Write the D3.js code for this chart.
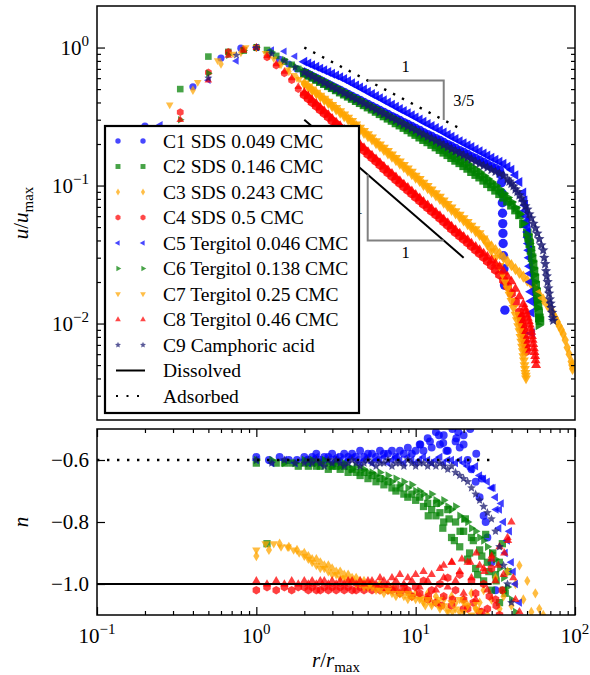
<!DOCTYPE html>
<html><head><meta charset="utf-8">
<script src="https://cdn.jsdelivr.net/npm/d3@7"></script>
<style>
body{margin:0;background:#fff}
svg{display:block}
text{font-family:"Liberation Serif","Times New Roman",serif;fill:#000}
</style>
</head><body>
<svg id="chart" width="590" height="675"></svg>
<script>
// ---------------- DATA ----------------
const rGrid = [2.00,2.12,2.24,2.38,2.52,2.67,2.83,2.99,3.17,3.36,3.56,3.77,3.99,4.23,4.48,4.74,5.02,5.32,5.64,5.97,6.32,6.70,7.10,7.52,7.96,8.43,8.93,9.46,10.0,10.6,11.2,11.9,12.6,13.4,14.2,15.0,15.9,16.8,17.8,18.9,20.0,21.2,22.4,23.8,25.2,26.7,28.2,29.9,31.7,33.6,35.6,37.7,39.9,42.3,44.8,47.4,50.2,53.2,56.4,59.7,63.2,67.0,71.0,75.2,79.6,84.3,89.3,94.6];

// C1 SDS 0.049 CMC
const c1HeadR = [0.2,0.4,0.6,0.8,1.0,1.2,1.4,1.6,1.8];
const c1HeadU = [0.27,0.52,0.84,0.99,1.0,0.91,0.82,0.76,0.70];
const c1HeadN = [null,null,null,null,-0.59,-0.60,-0.59,-0.60,-0.60];
const c1GridU = [0.660,0.638,0.617,0.597,0.577,0.558,0.540,0.522,0.505,0.489,
 0.473,0.457,0.442,0.428,0.414,0.400,0.387,0.374,0.362,0.350,
 0.338,0.327,0.316,0.306,0.296,0.286,0.277,0.268,0.259,0.251,
 0.242,0.234,0.227,0.219,0.212,0.205,0.198,0.192,0.186,0.179,
 0.174,0.168,0.162,0.157,0.152,0.147,0.142,0.137,0.133,0.129];
const c1GridN = [-0.59,-0.60,-0.59,-0.58,-0.60,-0.59,-0.59,-0.58,-0.60,-0.59,
 -0.58,-0.59,-0.58,-0.59,-0.57,-0.59,-0.58,-0.58,-0.59,-0.57,
 -0.58,-0.58,-0.57,-0.59,-0.57,-0.58,-0.56,-0.58,-0.57,-0.55,
 -0.57,-0.53,-0.56,-0.51,-0.55,-0.52,-0.57,-0.49,-0.54,-0.56,
 -0.52,-0.60,-0.63,-0.67,-0.72,-0.78,-0.85,-0.93,-1.02,null];
const c1TailR = [34.2,34.6,34.9,35.0,35.1,35.2,35.3,35.4,35.6,35.8,36.1,36.3];
const c1TailU = [0.120,0.105,0.088,0.075,0.063,0.053,0.045,0.038,0.031,0.025,0.019,0.0125];
const c1ExtraR = [10.7,12.3,14.0,14.9,15.6,17.0,18.0,18.5,20.0,22.0,24.0,26.0,27.5];
const c1ExtraN = [-0.55,-0.54,-0.52,-0.545,-0.57,-0.50,-0.53,-0.51,-0.55,-0.50,-0.58,-0.66,-0.80];

// C2 SDS 0.146 CMC
const c2HeadR = [0.333,0.5,0.667,0.833,1.0,1.167,1.333,1.5,1.667,1.833];
const c2HeadU = [0.50,0.86,0.93,0.95,1.0,0.96,0.87,0.79,0.75,0.70];
const c2HeadN = [null,null,null,null,-0.61,-0.87,-0.61,-0.61,-0.61,-0.62];
const c2GridU = [0.650,0.628,0.607,0.586,0.566,0.547,0.528,0.511,0.493,0.475,
 0.459,0.443,0.427,0.412,0.398,0.384,0.370,0.357,0.344,0.331,
 0.319,0.307,0.296,0.284,0.274,0.263,0.253,0.243,0.234,0.224,
 0.215,0.207,0.198,0.190,0.182,0.174,0.167,0.159,0.152,0.146,
 0.139,0.133,0.126,0.120,0.115,0.109,0.103,0.0977,0.0923,0.0871,
 0.0822,0.0769,0.0720,0.0664,0.0613,0.0528,0.0455];
const c2GridN = [-0.61,-0.62,-0.61,-0.62,-0.62,-0.61,-0.63,-0.62,-0.62,-0.63,
 -0.62,-0.64,-0.63,-0.64,-0.65,-0.64,-0.66,-0.65,-0.67,-0.66,
 -0.68,-0.67,-0.69,-0.70,-0.69,-0.71,-0.72,-0.71,-0.73,-0.72,
 -0.75,-0.74,-0.76,-0.78,-0.77,-0.80,-0.76,-0.85,-0.80,-0.88,
 -0.83,-0.92,-0.85,-0.95,-0.89,-0.99,-0.93,-1.02,-0.97,-1.06,
 -1.02,null,null,null,null,null,null];
const c2TailR = [51.1,52.0,52.9,53.8,54.6,55.3,56.0,56.7,57.4,58.0,58.6,59.2,59.8,60.3];
const c2TailU = [0.042,0.038,0.034,0.030,0.027,0.024,0.0215,0.019,0.017,0.015,0.0135,0.012,0.011,0.0105];
const c2ExtraR = [12.0,13.5,14.8,16.2,17.5,19.0,20.5,21.8,23.0,24.5,26.0,27.5,28.8,30.5,32.0,33.5,35.0,36.5,38.0];
const c2ExtraN = [-0.78,-0.74,-0.82,-0.79,-0.86,-0.83,-0.79,-0.90,-0.86,-0.97,-0.91,-0.84,-0.96,-0.90,-0.99,-0.93,-0.87,-1.03,-0.96];

// C3 SDS 0.243 CMC
const c3HeadR = [0.4,0.6,0.8,1.0,1.2,1.4,1.6,1.8];
const c3HeadU = [0.49,0.76,0.92,1.0,0.87,0.76,0.67,0.60];
const c3HeadN = [null,null,null,-0.91,-0.89,-0.87,-0.88,-0.89];
const c3GridU = [0.545,0.517,0.490,0.465,0.441,0.418,0.397,0.376,0.357,0.337,
 0.319,0.302,0.285,0.270,0.255,0.241,0.228,0.216,0.203,0.192,
 0.181,0.171,0.162,0.153,0.144,0.136,0.128,0.121,0.114,0.108,
 0.101,0.0958,0.0901,0.0848,0.0799,0.0752,0.0709,0.0667,0.0629,0.0592,
 0.0558,0.0525,0.0495,0.0466,0.0439,0.0412,0.0387,0.0363,0.0341,0.0320,
 0.0300,0.0282,0.0265,0.0248,0.0233,0.0219,0.0205,0.0193,0.0177,0.0162,
 0.0149,0.0136,0.0125,0.0110,0.0096,0.0084,0.0067,0.0053];
const c3GridN = [-0.90,-0.91,-0.92,-0.92,-0.93,-0.94,-0.94,-0.95,-0.96,-0.96,
 -0.97,-0.97,-0.98,-0.98,-0.99,-0.99,-1.00,-1.00,-1.01,-1.00,
 -1.01,-1.02,-1.01,-1.02,-1.03,-1.02,-1.03,-1.04,-1.03,-1.04,
 -1.05,-1.03,-1.06,-1.04,-1.07,-1.05,-1.08,-1.04,-1.06,-1.09,
 -1.05,-1.07,-1.03,-1.08,-1.06,-1.02,-1.10,-1.05,-0.98,-1.08,
 -1.04,-0.96,-1.07,-1.00,-0.94,-1.05,-0.99,-1.09,-1.03,-1.08,
 -1.10,null,null,null,null,null,null,null];
const c3TailR = [73.0,77.4,82.0,86.8,91.9,95.6,96.5];
const c3TailU = [0.0117,0.0103,0.0090,0.0076,0.0060,0.0050,0.0047];
const c3ExtraR = [];
const c3ExtraN = [];

// C4 SDS 0.5 CMC
const c4HeadR = [0.333,0.5,0.667,0.833,1.0,1.167,1.333,1.5,1.667,1.833];
const c4HeadU = [0.34,0.66,0.93,0.97,1.0,0.85,0.74,0.65,0.58,0.50];
const c4HeadN = [null,null,null,null,-1.02,-1.01,-1.02,-1.01,-1.02,-1.01];
const c4GridU = [0.455,0.428,0.402,0.378,0.355,0.334,0.314,0.295,0.278,0.261,
 0.245,0.230,0.216,0.203,0.191,0.180,0.169,0.159,0.150,0.141,
 0.132,0.124,0.117,0.110,0.104,0.0980,0.0925,0.0873,0.0823,0.0776,
 0.0732,0.0690,0.0651,0.0614,0.0579,0.0546,0.0515,0.0485,0.0457,0.0432,
 0.0408,0.0385,0.0363,0.0342,0.0322,0.0302,0.0283,0.0264,0.0245,0.0226,
 0.0206,0.0186,0.0165,0.0143,0.0121];
const c4GridN = [-1.01,-1.02,-1.01,-1.02,-1.02,-1.01,-1.02,-1.01,-1.02,-1.01,
 -1.02,-1.01,-1.02,-1.02,-1.01,-1.02,-1.01,-1.02,-1.01,-1.02,
 -1.01,-1.02,-1.02,-1.01,-1.03,-1.01,-1.02,-1.04,-1.01,-1.03,
 -0.99,-1.05,-1.02,-1.06,-1.00,-1.04,-0.98,-1.07,-1.02,-0.97,
 -1.05,-1.08,-0.99,-1.03,-1.09,-1.00,-1.08,-0.95,-1.05,-1.10,
 null,null,null,null,null];
const c4TailR = [45.4,46.0,46.5,47.0,47.5,48.0,48.4,48.8,49.2,49.5];
const c4TailU = [0.0114,0.0108,0.0101,0.0095,0.0089,0.0083,0.0077,0.0072,0.0067,0.0063];
const c4ExtraR = [12.0,14.5,17.0,20.0,23.0,26.0,29.0,32.0,35.0];
const c4ExtraN = [-1.04,-1.07,-1.05,-1.08,-1.06,-1.09,-1.04,-1.07,-1.02];

// C5 Tergitol 0.046 CMC
const c5HeadR = [0.25,0.5,0.75,1.0,1.25,1.5,1.75];
const c5HeadU = [0.276,0.58,0.80,1.0,0.96,0.94,0.865];
const c5HeadN = [null,null,null,-0.60,-0.61,-0.60,-0.61];
const c5GridU = [0.790,0.768,0.746,0.725,0.704,0.684,0.665,0.646,0.628,0.610,
 0.592,0.572,0.551,0.532,0.514,0.496,0.478,0.461,0.445,0.430,
 0.415,0.400,0.386,0.372,0.359,0.347,0.335,0.323,0.312,0.301,
 0.290,0.280,0.270,0.261,0.252,0.243,0.234,0.226,0.218,0.210,
 0.203,0.196,0.190,0.183,0.177,0.171,0.165,0.159,0.154,0.149,
 0.144,0.137,0.130,0.119,0.106,0.089];
const c5GridN = [-0.60,-0.61,-0.60,-0.59,-0.61,-0.60,-0.60,-0.61,-0.59,-0.60,
 -0.61,-0.60,-0.59,-0.60,-0.61,-0.60,-0.59,-0.61,-0.60,-0.60,
 -0.59,-0.61,-0.60,-0.59,-0.60,-0.61,-0.59,-0.60,-0.61,-0.60,
 -0.59,-0.60,-0.61,-0.60,-0.59,-0.61,-0.60,-0.60,-0.61,-0.60,
 -0.61,-0.62,-0.63,-0.62,-0.65,-0.66,-0.67,-0.69,-0.72,-0.76,
 -0.80,-0.86,-0.93,-1.00,-1.06,null];
const c5TailR = [48.2,48.6,49.0,49.4,49.8,50.2,50.5,50.8,51.1,51.4,51.7,52.0,52.3,52.6,52.8,53.0,53.3,53.7];
const c5TailU = [0.078,0.072,0.066,0.060,0.055,0.050,0.046,0.042,0.038,0.034,0.030,0.026,0.023,0.020,0.017,0.0145,0.012,0.0085];
const c5ExtraR = [30.6,32.0,33.3,34.5,36.5,38.8,41.0];
const c5ExtraN = [-0.69,-0.76,-0.82,-0.74,-0.90,-0.83,-0.96];

// C6 Tergitol 0.138 CMC
const c6HeadR = [0.333,0.5,0.667,0.833,1.0,1.25,1.5,1.75];
const c6HeadU = [0.30,0.65,0.88,0.95,1.0,0.93,0.82,0.73];
const c6HeadN = [null,null,null,null,-0.60,-0.60,-0.61,-0.61];
const c6GridU = [0.668,0.647,0.625,0.604,0.584,0.564,0.545,0.527,0.509,0.491,
 0.475,0.459,0.443,0.428,0.414,0.400,0.386,0.373,0.360,0.347,
 0.335,0.323,0.312,0.300,0.290,0.279,0.269,0.259,0.250,0.240,
 0.231,0.222,0.213,0.205,0.196,0.188,0.180,0.172,0.165,0.158,
 0.151,0.144,0.137,0.131,0.125,0.118,0.112,0.106,0.100,0.094,
 0.088,0.082,0.076,0.069,0.062,0.053,0.044];
const c6GridN = [-0.60,-0.61,-0.60,-0.61,-0.61,-0.60,-0.61,-0.62,-0.61,-0.62,
 -0.61,-0.62,-0.63,-0.62,-0.63,-0.63,-0.64,-0.64,-0.65,-0.64,
 -0.66,-0.65,-0.67,-0.66,-0.68,-0.67,-0.69,-0.68,-0.70,-0.70,
 -0.71,-0.72,-0.71,-0.73,-0.74,-0.73,-0.75,-0.76,-0.75,-0.78,
 -0.79,-0.80,-0.82,-0.83,-0.85,-0.86,-0.88,-0.90,-0.92,-0.95,
 -0.98,-1.01,-1.05,-1.09,null,null,null];
const c6TailR = [50.8,51.5,52.3,53.0,53.8,54.5,55.2,55.8,56.4,57.0,57.5,58.0,58.5,59.0];
const c6TailU = [0.041,0.038,0.034,0.031,0.028,0.025,0.0225,0.020,0.018,0.016,0.0145,0.013,0.011,0.0097];
const c6ExtraR = [];
const c6ExtraN = [];

// C7 Tergitol 0.25 CMC
const c7HeadR = [0.286,0.429,0.571,0.714,0.857,1.0,1.143,1.286,1.429,1.571,1.714,1.857];
const c7HeadU = [0.385,0.56,0.805,0.90,1.0,1.0,0.91,0.83,0.75,0.69,0.63,0.59];
const c7HeadN = [null,null,null,null,null,-0.89,-0.87,-0.87,-0.88,-0.88,-0.89,-0.90];
const c7GridU = [0.550,0.523,0.497,0.472,0.449,0.426,0.405,0.385,0.366,0.346,
 0.328,0.311,0.294,0.278,0.263,0.249,0.236,0.223,0.210,0.199,
 0.188,0.178,0.168,0.159,0.150,0.141,0.133,0.126,0.118,0.112,
 0.105,0.0995,0.0937,0.0882,0.0831,0.0782,0.0737,0.0694,0.0654,0.0615,
 0.0580,0.0545,0.0513,0.0483,0.0452,0.0415,0.0370,0.0335,0.0300,0.0262,
 0.0222,0.0180,0.0146,0.0116];
const c7GridN = [-0.91,-0.92,-0.93,-0.94,-0.95,-0.95,-0.96,-0.97,-0.97,-0.98,
 -0.98,-0.99,-0.99,-1.00,-1.00,-1.01,-1.01,-1.01,-1.02,-1.02,
 -1.03,-1.02,-1.03,-1.04,-1.03,-1.04,-1.05,-1.04,-1.05,-1.05,
 -1.06,-1.05,-1.07,-1.06,-1.08,-1.07,-1.09,-1.06,-1.08,-1.05,
 -1.09,-1.07,-1.10,-1.06,-1.09,null,null,null,null,null,
 null,null,null,null];
const c7TailR = [36.6,38.8,41.1,43.2,44.0,44.8,45.5,46.0,46.5,47.0,47.4,47.8,48.2,48.5,48.8,49.1,49.3];
const c7TailU = [0.0200,0.0162,0.0130,0.0106,0.0096,0.0088,0.0080,0.0074,0.0068,0.0063,0.0058,0.0054,0.0050,0.0047,0.0044,0.0042,0.0040];
const c7ExtraR = [9.0,11.5,14.0,17.0,20.0,24.0];
const c7ExtraN = [-1.03,-1.07,-1.05,-1.09,-1.06,-1.08];

// C8 Tergitol 0.46 CMC
const c8HeadR = [0.333,0.5,0.667,0.833,1.0,1.167,1.333,1.5,1.667,1.833];
const c8HeadU = [0.30,0.58,0.875,0.95,1.0,0.87,0.76,0.67,0.60,0.52];
const c8HeadN = [null,null,null,null,-0.99,-1.00,-0.99,-1.00,-0.99,-1.00];
const c8GridU = [0.470,0.442,0.415,0.390,0.367,0.345,0.325,0.305,0.287,0.270,
 0.254,0.238,0.224,0.211,0.198,0.187,0.175,0.165,0.155,0.146,
 0.137,0.129,0.122,0.115,0.108,0.102,0.0964,0.0909,0.0857,0.0808,
 0.0762,0.0719,0.0678,0.0639,0.0603,0.0568,0.0536,0.0505,0.0476,0.0450,
 0.0426,0.0403,0.0381,0.0360,0.0341,0.0322,0.0305,0.0288,0.0272,0.0258,
 0.0238,0.0219,0.0202,0.0178,0.0157,0.0138];
const c8GridN = [-0.99,-1.00,-0.99,-1.00,-0.99,-0.99,-1.00,-0.99,-1.00,-0.99,
 -1.00,-0.99,-0.99,-1.00,-0.99,-1.00,-0.99,-0.99,-1.00,-0.98,
 -0.99,-1.00,-0.98,-0.99,-0.97,-1.00,-0.98,-0.99,-0.97,-1.01,
 -0.96,-0.99,-0.97,-1.02,-0.95,-0.98,-1.01,-0.93,-0.99,-0.96,
 -1.03,-0.93,-0.98,-1.05,-0.94,-0.95,-1.02,-0.92,-0.99,-0.88,
 -0.97,-0.85,-0.80,-1.05,-1.09,null];
const c8TailR = [48.2,49.0,49.8,50.5,51.3,52.0,52.6,53.2,53.7,54.2,54.7,55.2,55.7,56.2,56.6,57.0];
const c8TailU = [0.0130,0.0123,0.0116,0.0110,0.0104,0.0098,0.0092,0.0087,0.0081,0.0076,0.0071,0.0066,0.0062,0.0058,0.0054,0.0050];
const c8ExtraR = [15.0,16.9,19.5,22.0,24.0,27.0,30.0,33.0,36.0,38.0,41.0];
const c8ExtraN = [-0.94,-0.93,-0.92,-0.93,-0.90,-0.96,-0.91,-0.94,-0.90,-0.86,-0.98];

// C9 Camphoric acid
const c9HeadR = [0.5,0.75,1.0,1.25,1.5,1.75];
const c9HeadU = [0.60,0.88,1.0,0.90,0.80,0.72];
const c9HeadN = [null,null,-0.60,-0.61,-0.60,-0.61];
const c9GridU = [0.660,0.637,0.616,0.595,0.575,0.555,0.536,0.518,0.501,0.484,
 0.467,0.451,0.436,0.421,0.407,0.393,0.380,0.367,0.354,0.342,
 0.331,0.319,0.309,0.298,0.288,0.278,0.269,0.260,0.251,0.242,
 0.234,0.226,0.219,0.211,0.204,0.197,0.190,0.184,0.178,0.172,
 0.166,0.160,0.155,0.149,0.144,0.139,0.135,0.130,0.126,0.122,
 0.118,0.111,0.103,0.094,0.085,0.076,0.067,0.058,0.049,0.041,
 0.034];
const c9GridN = [-0.61,-0.60,-0.61,-0.60,-0.61,-0.62,-0.60,-0.61,-0.60,-0.61,
 -0.62,-0.61,-0.60,-0.61,-0.62,-0.61,-0.60,-0.61,-0.62,-0.61,
 -0.61,-0.60,-0.62,-0.61,-0.61,-0.62,-0.60,-0.61,-0.62,-0.61,
 -0.61,-0.62,-0.61,-0.62,-0.61,-0.62,-0.63,-0.62,-0.64,-0.65,
 -0.66,-0.67,-0.69,-0.71,-0.73,-0.75,-0.77,-0.79,-0.83,-0.88,
 -0.94,-1.00,-1.06,null,null,null,null,null,null,null,
 null];
const c9TailR = [38.8,41.1,43.5,46.1,48.8,51.7,54.8,58.0,61.5,64.1,65.0,65.8,66.5,67.3,68.0,68.8,69.5,70.2,71.0,71.8,72.5,73.0];
const c9TailU = [0.107,0.099,0.090,0.081,0.071,0.062,0.053,0.045,0.037,0.030,0.027,0.024,0.022,0.020,0.018,0.0165,0.015,0.014,0.013,0.012,0.011,0.0105];
const c9ExtraR = [];
const c9ExtraN = [];

// reference power laws
const adsorbedR = [2, 20];      const adsorbedU = [1.0, 0.251];
const dissolvedR = [2, 20];     const dissolvedU = [0.30, 0.030];
const triAdsR = [5, 15, 15];    const triAdsU = [0.577, 0.577, 0.299];
const triDisR = [5, 5, 15];     const triDisU = [0.12, 0.04, 0.04];
const nLineR = [0.1, 30];       const nAdsorbed = -0.6; const nDissolved = -1.0;

const xTicks = [0.1, 1, 10, 100];     const xTickExp = ["\u22121","0","1","2"];
const yTopTicks = [0.01, 0.1, 1];     const yTopExp = ["\u22122","\u22121","0"];
const yBotTicks = [-1.0, -0.8, -0.6]; const yBotLabels = ["\u22121.0","\u22120.8","\u22120.6"];

// ---------------- SERIES ----------------
const series = [
  {label:"C1 SDS 0.049 CMC",       color:"#0000ff", shape:"circle",  hR:c1HeadR,hU:c1HeadU,hN:c1HeadN,gU:c1GridU,gN:c1GridN,tR:c1TailR,tU:c1TailU,eR:c1ExtraR,eN:c1ExtraN},
  {label:"C2 SDS 0.146 CMC",       color:"#008000", shape:"square",  hR:c2HeadR,hU:c2HeadU,hN:c2HeadN,gU:c2GridU,gN:c2GridN,tR:c2TailR,tU:c2TailU,eR:c2ExtraR,eN:c2ExtraN},
  {label:"C3 SDS 0.243 CMC",       color:"#ffa500", shape:"diamond", hR:c3HeadR,hU:c3HeadU,hN:c3HeadN,gU:c3GridU,gN:c3GridN,tR:c3TailR,tU:c3TailU,eR:c3ExtraR,eN:c3ExtraN},
  {label:"C4 SDS 0.5 CMC",         color:"#ff0000", shape:"hexagon", hR:c4HeadR,hU:c4HeadU,hN:c4HeadN,gU:c4GridU,gN:c4GridN,tR:c4TailR,tU:c4TailU,eR:c4ExtraR,eN:c4ExtraN},
  {label:"C5 Tergitol 0.046 CMC",  color:"#0000ff", shape:"triLeft", hR:c5HeadR,hU:c5HeadU,hN:c5HeadN,gU:c5GridU,gN:c5GridN,tR:c5TailR,tU:c5TailU,eR:c5ExtraR,eN:c5ExtraN},
  {label:"C6 Tergitol 0.138 CMC",  color:"#008000", shape:"triRight",hR:c6HeadR,hU:c6HeadU,hN:c6HeadN,gU:c6GridU,gN:c6GridN,tR:c6TailR,tU:c6TailU,eR:c6ExtraR,eN:c6ExtraN},
  {label:"C7 Tergitol 0.25 CMC",   color:"#ffa500", shape:"triDown", hR:c7HeadR,hU:c7HeadU,hN:c7HeadN,gU:c7GridU,gN:c7GridN,tR:c7TailR,tU:c7TailU,eR:c7ExtraR,eN:c7ExtraN},
  {label:"C8 Tergitol 0.46 CMC",   color:"#ff0000", shape:"triUp",   hR:c8HeadR,hU:c8HeadU,hN:c8HeadN,gU:c8GridU,gN:c8GridN,tR:c8TailR,tU:c8TailU,eR:c8ExtraR,eN:c8ExtraN},
  {label:"C9 Camphoric acid",      color:"#191970", shape:"star",    hR:c9HeadR,hU:c9HeadU,hN:c9HeadN,gU:c9GridU,gN:c9GridN,tR:c9TailR,tU:c9TailU,eR:c9ExtraR,eN:c9ExtraN}
];
series.forEach(s => {
  const pts = [];
  s.hR.forEach((r,i) => pts.push({r, u:s.hU[i], n:s.hN[i], dense:false}));
  s.gU.forEach((u,i) => pts.push({r:rGrid[i], u, n:(s.gN[i]===undefined?null:s.gN[i]), dense:true}));
  s.tR.forEach((r,i) => pts.push({r, u:s.tU[i], n:null, dense:true}));
  s.points = pts;
  s.nPoints = pts.filter(d => d.n !== null).concat(s.eR.map((r,i) => ({r, n:s.eN[i]})));
});

// ---------------- LAYOUT ----------------
const L = 97, R = 575, T1 = 6, B1 = 420, T2 = 429, B2 = 615;
const svg = d3.select("#chart");
const x  = d3.scaleLog().domain([0.1, 100]).range([L, R]);
const yT = d3.scaleLog().domain([0.002, 2]).range([B1, T1]);
const yB = d3.scaleLinear().domain([-1.1, -0.5]).range([B2, T2]);

const defs = svg.append("defs");
defs.append("clipPath").attr("id","clipTop").append("rect").attr("x",L).attr("y",T1).attr("width",R-L).attr("height",B1-T1);
defs.append("clipPath").attr("id","clipBot").append("rect").attr("x",L).attr("y",T2).attr("width",R-L).attr("height",B2-T2);

function markerPath(shape, s) {
  const poly = pts => "M" + pts.map(q => q[0].toFixed(2) + "," + q[1].toFixed(2)).join("L") + "Z";
  const reg = (n, rad, a0) => d3.range(n).map(i => { const a = a0 + 2*Math.PI*i/n; return [rad*Math.cos(a), rad*Math.sin(a)]; });
  switch (shape) {
    case "circle": { const r = 3.6*s; return `M${r},0A${r},${r} 0 1,1 ${-r},0A${r},${r} 0 1,1 ${r},0Z`; }
    case "square": { const h = 3.3*s; return poly([[-h,-h],[h,-h],[h,h],[-h,h]]); }
    case "diamond": { const h = 4.7*s, w = 2.8*s; return poly([[0,-h],[w,0],[0,h],[-w,0]]); }
    case "hexagon": return poly(reg(6, 3.9*s, -Math.PI/2));
    case "triUp":    return poly(reg(3, 4.4*s, -Math.PI/2));
    case "triDown":  return poly(reg(3, 4.4*s,  Math.PI/2));
    case "triLeft":  return poly(reg(3, 4.4*s,  Math.PI));
    case "triRight": return poly(reg(3, 4.4*s,  0));
    case "star": {
      const pts = [];
      for (let i = 0; i < 10; i++) { const rad = (i%2===0 ? 4.2 : 1.9)*s; const a = -Math.PI/2 + Math.PI*i/5; pts.push([rad*Math.cos(a), rad*Math.sin(a)]); }
      return poly(pts);
    }
  }
}
const SPARSE = {scale:1.0, op:0.72}, DENSE = {scale:1.3, op:0.85};

// ---------------- TOP PANEL ----------------
const gTop = svg.append("g").attr("clip-path","url(#clipTop)");
series.forEach(s => {
  gTop.append("g").selectAll("path").data(s.points).join("path")
    .attr("d", d => markerPath(s.shape, d.dense ? DENSE.scale : SPARSE.scale))
    .attr("transform", d => `translate(${x(d.r)},${yT(d.u)})`)
    .attr("fill", s.color).attr("fill-opacity", d => d.dense ? DENSE.op : SPARSE.op);
});
const lineTop = d3.line().x(d => x(d[0])).y(d => yT(d[1]));
gTop.append("path").attr("d", lineTop(d3.zip(adsorbedR, adsorbedU)))
  .attr("fill","none").attr("stroke","#000").attr("stroke-width",2.4).attr("stroke-dasharray","2.4,7.6");
gTop.append("path").attr("d", lineTop(d3.zip(dissolvedR, dissolvedU)))
  .attr("fill","none").attr("stroke","#000").attr("stroke-width",2);
gTop.append("path").attr("d", lineTop(d3.zip(triAdsR, triAdsU)))
  .attr("fill","none").attr("stroke","#808080").attr("stroke-width",2);
gTop.append("path").attr("d", lineTop(d3.zip(triDisR, triDisU)))
  .attr("fill","none").attr("stroke","#808080").attr("stroke-width",2);
const annot = (tx, ty, t) => svg.append("text").attr("x",tx).attr("y",ty).attr("text-anchor","middle").attr("font-size",16.5).text(t);
annot((x(triAdsR[0])+x(triAdsR[1]))/2, yT(triAdsU[0]) - 8, "1");
annot(x(triAdsR[1]) + 20, (yT(triAdsU[1]) + yT(triAdsU[2]))/2 + 6, "3/5");
annot((x(triDisR[1])+x(triDisR[2]))/2, yT(triDisU[1]) + 18, "1");
annot(x(triDisR[0]) - 9, (yT(triDisU[0]) + yT(triDisU[1]))/2 + 6, "1");

// ---------------- BOTTOM PANEL ----------------
const gBot = svg.append("g").attr("clip-path","url(#clipBot)");
series.forEach(s => {
  gBot.append("g").selectAll("path").data(s.nPoints).join("path")
    .attr("d", markerPath(s.shape, 1.1))
    .attr("transform", d => `translate(${x(d.r)},${yB(d.n)})`)
    .attr("fill", s.color).attr("fill-opacity", 0.75);
});
gBot.append("line").attr("x1",x(nLineR[0])).attr("x2",x(nLineR[1])).attr("y1",yB(nAdsorbed)).attr("y2",yB(nAdsorbed))
  .attr("stroke","#000").attr("stroke-width",2.4).attr("stroke-dasharray","2.4,7.6");
gBot.append("line").attr("x1",x(nLineR[0])).attr("x2",x(nLineR[1])).attr("y1",yB(nDissolved)).attr("y2",yB(nDissolved))
  .attr("stroke","#000").attr("stroke-width",2);

// ---------------- AXES ----------------
const minorLog = (lo, hi) => { const out = []; for (let d = lo; d < hi; d *= 10) for (let k = 2; k <= 9; k++) out.push(k*d); return out; };
const xMinor = minorLog(0.1, 100);
const yTopMinor = minorLog(0.001, 1).filter(v => v > 0.002 && v < 2);
function styleAxis(g) { g.select(".domain").remove(); g.selectAll(".tick line").attr("stroke","#000").attr("stroke-width",1.2); g.selectAll(".tick text").remove(); }
svg.append("g").attr("transform",`translate(${L},0)`).call(d3.axisLeft(yT).tickValues(yTopTicks).tickSize(-8).tickFormat(()=>"")).call(styleAxis);
svg.append("g").attr("transform",`translate(${L},0)`).call(d3.axisLeft(yT).tickValues(yTopMinor).tickSize(-4).tickFormat(()=>"")).call(styleAxis);
svg.append("g").attr("transform",`translate(${R},0)`).call(d3.axisRight(yT).tickValues(yTopTicks).tickSize(-8).tickFormat(()=>"")).call(styleAxis);
svg.append("g").attr("transform",`translate(${R},0)`).call(d3.axisRight(yT).tickValues(yTopMinor).tickSize(-4).tickFormat(()=>"")).call(styleAxis);
svg.append("g").attr("transform",`translate(0,${B2})`).call(d3.axisBottom(x).tickValues(xTicks).tickSize(-8).tickFormat(()=>"")).call(styleAxis);
svg.append("g").attr("transform",`translate(0,${B2})`).call(d3.axisBottom(x).tickValues(xMinor).tickSize(-4).tickFormat(()=>"")).call(styleAxis);
svg.append("g").attr("transform",`translate(0,${T2})`).call(d3.axisTop(x).tickValues(xTicks).tickSize(-8).tickFormat(()=>"")).call(styleAxis);
svg.append("g").attr("transform",`translate(0,${T2})`).call(d3.axisTop(x).tickValues(xMinor).tickSize(-4).tickFormat(()=>"")).call(styleAxis);
svg.append("g").attr("transform",`translate(${L},0)`).call(d3.axisLeft(yB).tickValues(yBotTicks).tickSize(-8).tickFormat(()=>"")).call(styleAxis);
svg.append("g").attr("transform",`translate(${R},0)`).call(d3.axisRight(yB).tickValues(yBotTicks).tickSize(-8).tickFormat(()=>"")).call(styleAxis);

[[T1,B1],[T2,B2]].forEach(([t,b]) => svg.append("rect").attr("x",L).attr("y",t).attr("width",R-L).attr("height",b-t)
  .attr("fill","none").attr("stroke","#000").attr("stroke-width",1.5));

function powLabel(px, py, exp, anchor) {
  const t = svg.append("text").attr("x",px).attr("y",py).attr("text-anchor",anchor).attr("font-size",21);
  t.append("tspan").text("10");
  t.append("tspan").attr("dy",-9).attr("font-size",15).text(exp);
}
yTopTicks.forEach((v,i) => powLabel(L - 8, yT(v) + 7, yTopExp[i], "end"));
xTicks.forEach((v,i) => powLabel(x(v), 643, xTickExp[i], "middle"));
yBotTicks.forEach((v,i) => svg.append("text").attr("x",L - 8).attr("y",yB(v) + 7).attr("text-anchor","end").attr("font-size",21).text(yBotLabels[i]));

const yl = svg.append("text").attr("transform",`translate(28,${(T1+B1)/2}) rotate(-90)`).attr("text-anchor","middle").attr("font-size",21);
yl.append("tspan").attr("font-style","italic").text("u");
yl.append("tspan").text("/");
yl.append("tspan").attr("font-style","italic").text("u");
yl.append("tspan").attr("dy",5).attr("font-size",15).text("max");
svg.append("text").attr("transform",`translate(28,${(T2+B2)/2}) rotate(-90)`).attr("text-anchor","middle").attr("font-size",21).attr("font-style","italic").text("n");
const xl = svg.append("text").attr("x",(L+R)/2).attr("y",667).attr("text-anchor","middle").attr("font-size",21);
xl.append("tspan").attr("font-style","italic").text("r");
xl.append("tspan").text("/");
xl.append("tspan").attr("font-style","italic").text("r");
xl.append("tspan").attr("dy",5).attr("font-size",15).text("max");

// ---------------- LEGEND ----------------
const lg = svg.append("g");
lg.append("rect").attr("x",105).attr("y",126).attr("width",254).attr("height",287)
  .attr("fill","#fff").attr("stroke","#000").attr("stroke-width",2.2);
const legendItems = series.map(s => ({label:s.label, color:s.color, shape:s.shape}))
  .concat([{label:"Dissolved", line:"solid"}, {label:"Adsorbed", line:"dotted"}]);
legendItems.forEach((it, i) => {
  const cy = 141 + i*25.5;
  if (it.line) {
    lg.append("line").attr("x1",116).attr("x2",145).attr("y1",cy).attr("y2",cy).attr("stroke","#000")
      .attr("stroke-width",2).attr("stroke-dasharray", it.line === "dotted" ? "2,8.5" : null);
  } else {
    [118, 143].forEach(mx => lg.append("path").attr("d", markerPath(it.shape, 0.75))
      .attr("transform",`translate(${mx},${cy})`).attr("fill",it.color).attr("fill-opacity",0.72));
  }
  lg.append("text").attr("x",163).attr("y",cy + 6.5).attr("font-size",19.5).text(it.label);
});
</script>
</body></html>
